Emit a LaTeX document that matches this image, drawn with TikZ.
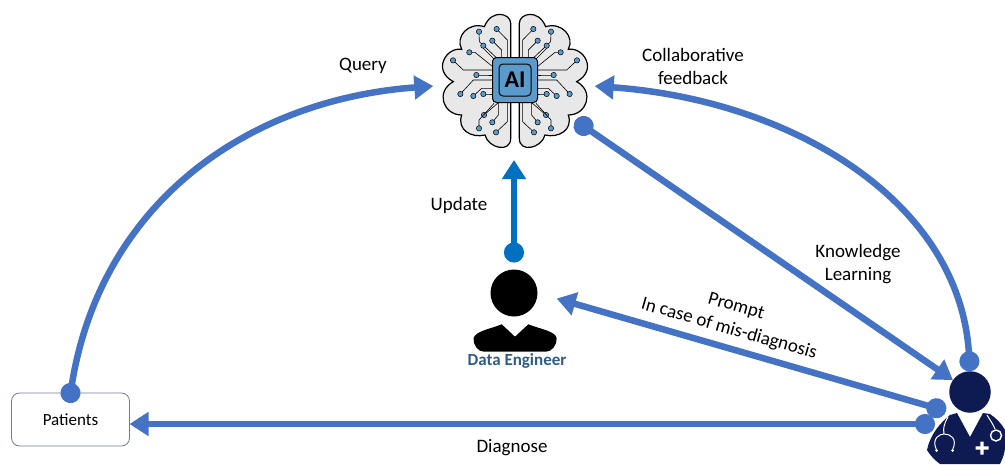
\documentclass[tikz,border=0pt]{standalone}
\usepackage{fontspec}
\setmainfont{Carlito}
\usetikzlibrary{arrows.meta}
\definecolor{linkblue}{HTML}{4472C4}
\definecolor{updateblue}{HTML}{0070C0}
\definecolor{chipblue}{HTML}{5B9BCB}
\definecolor{lobegray}{HTML}{E8E8E8}
\definecolor{doctornavy}{HTML}{0E1A52}
\definecolor{engineerblue}{HTML}{2F5B88}
\definecolor{boxgray}{HTML}{6C7F99}
\tikzset{
  link/.style={line width=6.5pt,draw=#1,
    {Circle[length=20pt,fill=#1]}-{Triangle[length=19pt,width=23pt,fill=#1]}},
  link/.default=linkblue,
  lbl/.style={font=\fontsize{19}{23}\selectfont,align=center},
}
\begin{document}
\begin{tikzpicture}[x=1pt,y=-1pt]
\useasboundingbox (0,0) rectangle (1005,464);
% brain
\foreach \s in {1,-1}{
\begin{scope}[shift={(515,80)},xscale=\s,scale=.3333]
\filldraw[fill=lobegray,draw=black,line width=1.2pt]
  (-13,-170) .. controls (-13,-200) and (-70,-215) .. (-92,-160)
  .. controls (-140,-175) and (-180,-130) .. (-160,-92)
  .. controls (-205,-100) and (-250,-30) .. (-185,5)
  .. controls (-240,35) and (-215,105) .. (-160,105)
  .. controls (-175,150) and (-130,175) .. (-90,165)
  .. controls (-80,205) and (-13,220) .. (-13,175) -- cycle;
\foreach \ax/\ay/\bx/\by/\cx/\cy in {
 -108/-145/-107/-115/-57/-68,
 -55/-153/-23/-120/-23/-68,
 -68/-118/-40/-90/-40/-68,
 -95/-103/-95/-95/-65/-65,
 -137/-83/-120/-83/-67/-40,
 -186/-59/-155/-30/-67/-30,
 -116/-15/-90/-15/-67/-15,
 -164/42/-125/0/-67/0,
 -125/48/-100/25/-67/25,
 -95/42/-80/42/-67/42,
 -93/105/-70/85/-50/68,
 -68/127/-50/105/-50/68,
 -108/145/-108/120/-63/70,
 -57/157/-23/125/-23/68
}{
\draw[line width=.6pt] (\ax,\ay) -- (\bx,\by) -- (\cx,\cy);
\filldraw[fill=chipblue,draw=black,line width=.5pt] (\ax,\ay) circle[radius=8pt];
}
\end{scope}
}
\node[draw=black,fill=chipblue,line width=1pt,rounded corners=4pt,minimum size=45pt] (chip) at (515,80) {};
\node[draw=black,line width=1pt,rounded corners=4pt,minimum size=32pt,inner sep=0pt,font=\fontsize{24}{24}\selectfont\bfseries] (ailabel) at (chip) {AI};
\node[circle,minimum size=162pt,inner sep=0pt,outer sep=0pt] (brain) at (514,79) {};
% people
\node[draw=boxgray,line width=.8pt,rounded corners=8pt,minimum width=118pt,minimum height=53pt,outer sep=0pt,
  font=\fontsize{17}{20}\selectfont] (patients) at (70.5,419.5) {Patients};
\node[circle,fill=black,minimum size=47pt,inner sep=0pt,outer sep=0pt] (engineer) at (514,293) {};
\fill (473.5,338) .. controls (476,331) and (490,329) .. (501.7,324.3) -- (515,336.7) -- (528.3,324.3)
  .. controls (540,329) and (555,331) .. (556.7,338) .. controls (557,345) and (552,351.7) .. (546,351.7)
  -- (484,351.7) .. controls (478,351.7) and (473,345) .. (473.5,338) -- cycle;
\node[font=\fontsize{17}{20}\selectfont\bfseries,text=engineerblue] (engineerlabel) at (517,361) {Data Engineer};
\node[circle,fill=doctornavy,minimum size=41.5pt,inner sep=0pt,outer sep=0pt] (doctor) at (970,392) {};
\fill[doctornavy] (950,415) .. controls (940,423) and (930,435) .. (927,450) .. controls (932,458) and (936,461) .. (940,464)
  -- (1000,464) .. controls (1003,458) and (1005,452) .. (1005,447) -- (1005,430) .. controls (1002,424) and (996,418) .. (990,414)
  -- (983,413) -- (970,437) -- (957,413) -- cycle;
\draw[white,line width=1pt] (948,417) .. controls (944,424) and (943,428) .. (944,434)
  (936.5,450) .. controls (931,438) and (940,434) .. (944,434) .. controls (950,434) and (958,438) .. (952.5,450)
  (987,415) .. controls (990,420) and (993,424) .. (995,429);
\draw[white,line width=1.4pt] (996,435.5) circle[radius=5.5pt];
\fill[white] (936.5,450.5) circle[radius=1.5pt] (952.5,450.5) circle[radius=1.5pt];
\fill[white] (980.3,441.5) rectangle (983.7,454.5) (975.5,446.3) rectangle (988.5,449.7);
% free ends
\coordinate (promptend) at (946,411);
\coordinate (diagnoseend) at (935,424);
% connectors
\draw[link,shorten <=-10pt] (patients.north) .. controls (100,205) and (245,100) .. (brain.185);
\draw[link] (doctor.north) .. controls (960,200) and (790,100) .. (brain.-5);
\draw[link,shorten <=-7pt] (brain.-34) -- (doctor.145);
\draw[link=updateblue,shorten <=7pt] (engineer.north) -- (brain.south);
\draw[link,shorten >=20pt] (promptend) -- (engineer.east);
\draw[link] (diagnoseend) -- (patients.east |- diagnoseend);
% labels
\node[lbl] (querylabel) at (363,65.5) {Query};
\node[lbl] (feedbacklabel) at (693,66) {Collaborative\\feedback};
\node[lbl] (updatelabel) at (459,205) {Update};
\node[lbl] (learninglabel) at (858,264.5) {Knowledge\\Learning};
\node[lbl,rotate=-16] (promptlabel) at (736,307) {Prompt};
\node[lbl,rotate=-16] (caselabel) at (729,329) {In case of mis-diagnosis};
\node[lbl] (diagnoselabel) at (512,447.5) {Diagnose};
\end{tikzpicture}
\end{document}
